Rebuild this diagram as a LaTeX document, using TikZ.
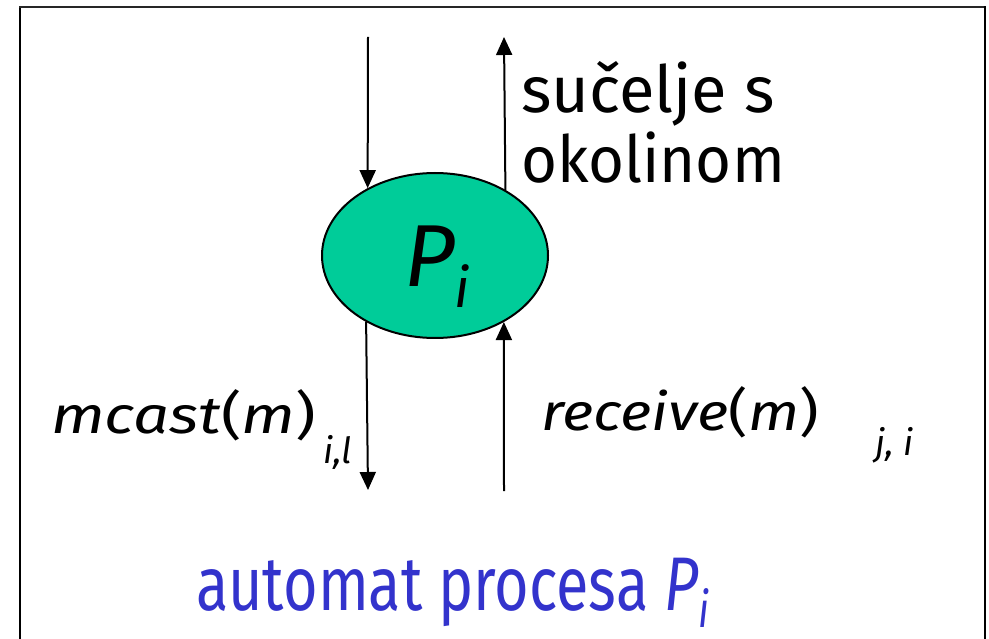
\documentclass[tikz,border=0pt]{standalone}
\usepackage{fontspec}
\setmainfont{Fira Sans}
\usetikzlibrary{arrows.meta,shapes.geometric}
\definecolor{procgreen}{RGB}{0,204,153}
\definecolor{titleblue}{RGB}{51,51,204}
\begin{document}
\begin{tikzpicture}[x=1pt,y=-1pt,
  arr/.style={line width=2pt,-{Triangle[length=18pt,width=16pt]}},
  lbl/.style={anchor=base west,inner sep=0pt,outer sep=0pt},
  frame/.style={line cap=rect}]
\useasboundingbox (0,0) rectangle (989,639);
% frame (bottom edge lies outside the picture)
\draw[frame,line width=2.5pt] (20,680) -- (20,7);
\draw[frame,line width=2pt,black!85] (20,7) -- (985,7);
\draw[frame,line width=1.2pt] (985,7) -- (985,680);
% process
\node[ellipse,draw,line width=2pt,fill=procgreen,minimum width=226pt,minimum height=165pt,inner sep=0pt] (Pi) at (435,255.5) {};
\node[lbl] (Plabel) at (404,287) {\fontsize{88}{90}\selectfont\itshape P\raisebox{-21pt}{\fontsize{55}{56}\selectfont i}};
% connectors
\coordinate (tl) at (368,37);
\coordinate (tr) at (504,37);
\coordinate (bl) at (368,490);
\coordinate (br) at (504,491);
\draw[arr] (tl) -- (Pi.135.3);
\draw[arr] (Pi.43.4) -- (tr);
\draw[arr] (Pi.224.7) -- (bl);
\draw[arr] (br) -- (Pi.316.6);
% labels
\node[lbl] (env1) at (521,113) {\fontsize{65}{70}\selectfont sučelje s};
\node[lbl] (env2) at (521,183) {\fontsize{65}{70}\selectfont\scalebox{0.95}[1]{okolinom}};
\node[lbl] (mcast) at (51,433) {\scalebox{1.22}[1]{\fontsize{52}{54}\selectfont\textit{mcast}(\textit{m})}};
\node[lbl] (mcastsub) at (323,463) {\fontsize{36}{38}\selectfont\itshape i,l};
\node[lbl] (recv) at (541,430) {\scalebox{1.16}[1]{\fontsize{52}{54}\selectfont\textit{receive}(\textit{m})}};
\node[lbl] (recvsub) at (875,455) {\fontsize{36}{38}\selectfont\itshape j, i};
\node[lbl,text=titleblue] (title) at (196,610) {\scalebox{0.781}[1]{\fontsize{76}{78}\selectfont automat procesa \textit{P}\raisebox{-17pt}{\fontsize{50}{52}\selectfont\itshape i}}};
\end{tikzpicture}
\end{document}
